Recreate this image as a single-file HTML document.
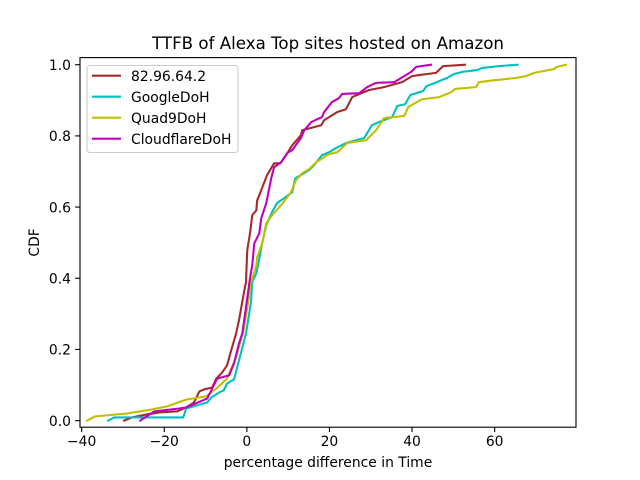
<!DOCTYPE html>
<html>
<head>
<meta charset="utf-8">
<title>TTFB of Alexa Top sites hosted on Amazon</title>
<style>
html,body{margin:0;padding:0;background:#fff;width:640px;height:480px;overflow:hidden}
svg{display:block}
text{font-family:"DejaVu Sans",sans-serif;fill:#000}
</style>
</head>
<body>
<svg id="chart" width="640" height="480" viewBox="0 0 640 480" xmlns="http://www.w3.org/2000/svg">
<rect x="0" y="0" width="640" height="480" fill="#fff"/>
<text x="328" y="49" font-size="16.67" text-anchor="middle">TTFB of Alexa Top sites hosted on Amazon</text>
<text x="328" y="467" font-size="13.89" text-anchor="middle">percentage difference in Time</text>
<text x="0" y="0" font-size="13.89" text-anchor="middle" transform="translate(39,242.4) rotate(-90)">CDF</text>
<g id="marks"></g>
<g id="ticks"></g>
<rect x="80" y="57.6" width="496" height="369.6" fill="none" stroke="#000" stroke-width="1.11"/>
<g>
<rect x="87" y="65.5" width="151" height="87" rx="3" ry="3" fill="#fff" fill-opacity="0.8" stroke="#ccc" stroke-width="1.1"/>
<g>
<line x1="92" x2="121" y1="75.7" y2="75.7" stroke="#a52a2a" stroke-width="2.08"/>
<text x="131" y="81" font-size="13.89">82.96.64.2</text>
</g>
<g>
<line x1="92" x2="121" y1="96.7" y2="96.7" stroke="#00bfbf" stroke-width="2.08"/>
<text x="131" y="102" font-size="13.89">GoogleDoH</text>
</g>
<g>
<line x1="92" x2="121" y1="117.7" y2="117.7" stroke="#bfbf00" stroke-width="2.08"/>
<text x="131" y="123" font-size="13.89">Quad9DoH</text>
</g>
<g>
<line x1="92" x2="121" y1="138.7" y2="138.7" stroke="#bf00bf" stroke-width="2.08"/>
<text x="131" y="144" font-size="13.89">CloudflareDoH</text>
</g>
</g>
</svg>
<script>
const xTickValues = [-40, -20, 0, 20, 40, 60];
const yTickValues = [0, 0.2, 0.4, 0.6, 0.8, 1];
const yTickLabels = ["0.0", "0.2", "0.4", "0.6", "0.8", "1.0"];

const brownX = [-29.7,-27.8,-24.4,-21.2,-16.9,-14.7,-12.8,-11.5,-10.3,-8.4,-7.4,-6.0,-4.8,-3.8,-2.6,-1.9,-1.4,-0.7,-0.2,-0.1,0.1,0.8,1.3,2.3,2.5,3.0,4.9,6.6,8.1,9.5,11.0,13.1,13.4,18.0,18.7,21.9,24.0,25.5,29.6,33.2,37.6,40.0,41.7,45.8,47.5,52.8];
const brownY = [0,.009,.017,.023,.026,.037,.051,.082,.088,.093,.118,.135,.155,.197,.245,.282,.315,.360,.389,.422,.479,.529,.577,.591,.619,.633,.690,.723,.723,.746,.774,.802,.816,.830,.844,.867,.875,.909,.929,.937,.951,.968,.971,.977,.996,1];

const googleX = [-33.6,-32.1,-15.4,-14.7,-9.6,-8.6,-6.7,-5.6,-4.8,-3.1,-1.9,-0.2,1.0,1.3,2.3,2.7,3.7,4.7,6.1,7.3,9.0,11.0,11.7,13.1,15.1,16.3,18.2,19.9,21.6,24.0,28.4,30.3,32.0,35.2,36.4,38.3,39.6,42.7,43.5,45.6,46.6,48.5,50.2,52.2,55.8,57.0,61.1,65.6];
const googleY = [0,.009,.009,.034,.051,.065,.079,.085,.104,.116,.169,.245,.332,.389,.414,.436,.498,.549,.586,.611,.625,.642,.681,.690,.704,.718,.746,.754,.766,.780,.794,.830,.839,.853,.884,.889,.915,.926,.940,.949,.954,.963,.974,.980,.985,.991,.996,1];

const quad9X = [-38.7,-36.7,-29.0,-23.2,-19.3,-14.7,-9.9,-7.4,-4.8,-2.6,-0.7,0.3,1.0,1.8,2.3,2.5,3.7,4.7,6.1,8.5,10.7,11.9,13.4,15.1,16.8,19.9,21.9,24.3,28.9,31.3,33.2,38.1,39.1,42.4,46.6,49.5,50.4,55.5,56.2,58.2,65.2,67.6,69.6,74.4,75.1,77.3];
const quad9Y = [0,.012,.020,.031,.040,.059,.068,.090,.118,.178,.259,.332,.389,.417,.436,.459,.498,.555,.577,.608,.642,.676,.695,.707,.726,.749,.754,.780,.788,.816,.850,.856,.881,.903,.909,.923,.932,.937,.951,.954,.963,.968,.977,.988,.994,1];

const cloudflareX = [-25.8,-22.4,-16.4,-14.7,-9.6,-7.2,-4.3,-3.1,-1.9,-1.1,0.1,0.8,1.3,1.8,3.0,3.5,4.7,5.9,6.6,8.3,9.8,11.0,13.1,13.9,15.6,18.2,18.7,20.6,22.3,23.1,27.2,29.1,31.3,35.7,38.1,39.8,41.0,44.6];
const cloudflareY = [0,.026,.034,.037,.062,.118,.127,.161,.217,.245,.344,.403,.436,.498,.526,.569,.611,.681,.712,.726,.752,.760,.794,.816,.839,.853,.867,.895,.906,.918,.920,.937,.949,.951,.968,.980,.994,1];

const xDomainMin = -40.4, xDomainMax = 79.7;
const yDomainMin = -0.0185, yDomainMax = 1.02;

const NS = 'http://www.w3.org/2000/svg';
function xScale(v) { return 80 + (v - xDomainMin) / (xDomainMax - xDomainMin) * 496; }
function yScale(v) { return 427.2 - (v - yDomainMin) / (yDomainMax - yDomainMin) * 369.6; }

function drawLine(xs, ys, color, name) {
  const p = document.createElementNS(NS, 'polyline');
  p.setAttribute('points', xs.map((x, i) => xScale(x).toFixed(2) + ',' + yScale(ys[i]).toFixed(2)).join(' '));
  p.setAttribute('fill', 'none');
  p.setAttribute('stroke', color);
  p.setAttribute('stroke-width', '2.08');
  p.setAttribute('stroke-linejoin', 'round');
  p.setAttribute('stroke-linecap', 'square');
  
  
  document.getElementById('marks').appendChild(p);
}
drawLine(brownX, brownY, '#a52a2a', 'line-82-96-64-2');
drawLine(googleX, googleY, '#00bfbf', 'line-googledoh');
drawLine(quad9X, quad9Y, '#bfbf00', 'line-quad9doh');
drawLine(cloudflareX, cloudflareY, '#bf00bf', 'line-cloudflaredoh');

const tickGroup = document.getElementById('ticks');
xTickValues.forEach(function (v) {
  const px = xScale(v);
  const t = document.createElementNS(NS, 'line');
  t.setAttribute('x1', px);
  t.setAttribute('x2', px);
  t.setAttribute('y1', 427.2);
  t.setAttribute('y2', 432.06);
  t.setAttribute('stroke', '#000');
  t.setAttribute('stroke-width', '1.11');
  
  
  tickGroup.appendChild(t);
  const l = document.createElementNS(NS, 'text');
  l.setAttribute('x', px);
  l.setAttribute('y', 446);
  l.setAttribute('font-size', '13.89');
  l.setAttribute('text-anchor', 'middle');
  l.textContent = String(v).replace('-', '\u2212');
  
  
  tickGroup.appendChild(l);
});
yTickValues.forEach(function (v, i) {
  const py = yScale(v);
  const t = document.createElementNS(NS, 'line');
  t.setAttribute('x1', 75.14);
  t.setAttribute('x2', 80);
  t.setAttribute('y1', py);
  t.setAttribute('y2', py);
  t.setAttribute('stroke', '#000');
  t.setAttribute('stroke-width', '1.11');
  
  
  tickGroup.appendChild(t);
  const l = document.createElementNS(NS, 'text');
  l.setAttribute('x', 71);
  l.setAttribute('y', py + 5.2);
  l.setAttribute('font-size', '13.89');
  l.setAttribute('text-anchor', 'end');
  l.textContent = yTickLabels[i];
  
  
  tickGroup.appendChild(l);
});
</script>
</body>
</html>
